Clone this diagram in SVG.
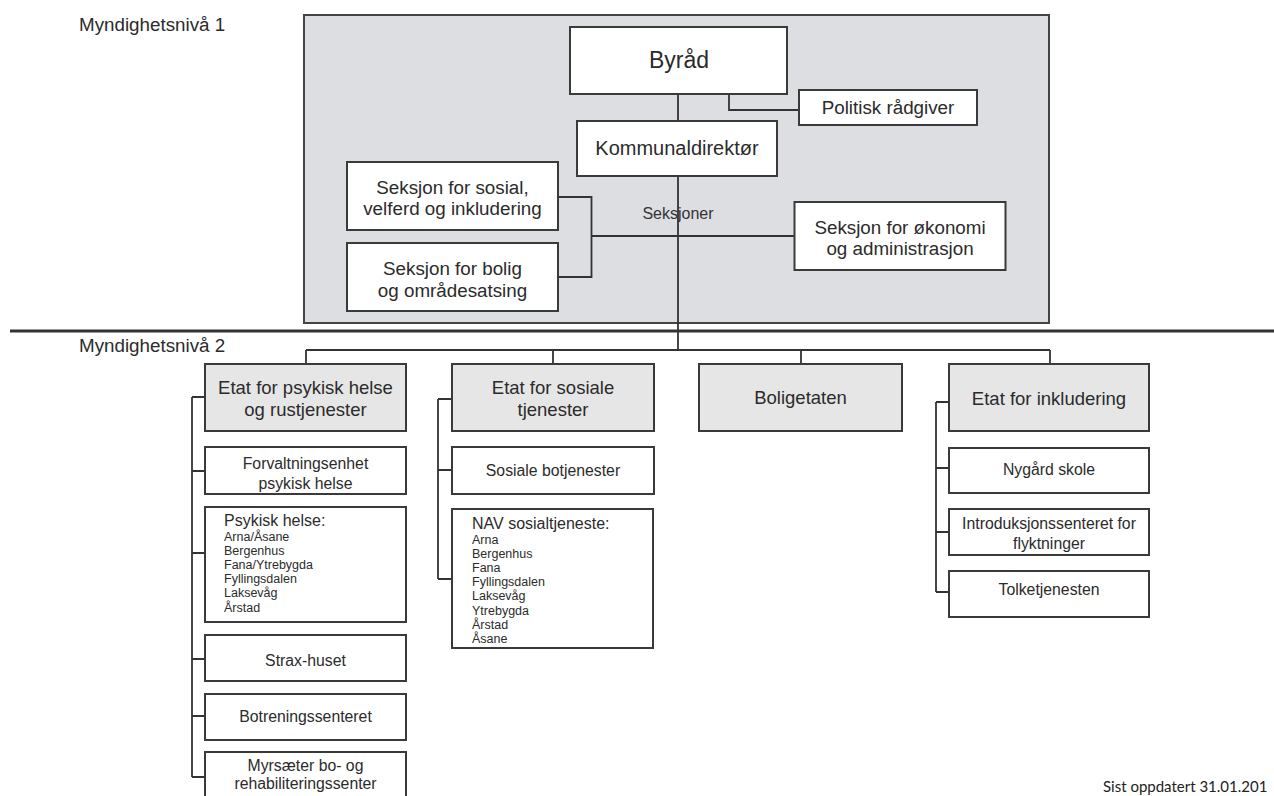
<svg xmlns="http://www.w3.org/2000/svg" width="1274" height="796" viewBox="0 0 1274 796">
<style>
text{font-family:"Liberation Sans",Arial,sans-serif;fill:#2b2b2b}
.c{text-anchor:middle}
.box{fill:#fff;stroke:#3a3a3a;stroke-width:2}
.etat{fill:#e6e6e6;stroke:#3a3a3a;stroke-width:2}
.l1{font-size:18.8px}
.l2{font-size:18.5px}
.sb{font-size:15.8px}
.hd{font-size:16px}
.it{font-size:12.5px}
.lv{font-size:18.8px}
.ln{fill:none;stroke:#333;stroke-width:1.8}
</style>
<rect width="1274" height="796" fill="#fff"/>
<g id="level1-area">
<rect x="304" y="15" width="745" height="308" fill="#dcdee1" stroke="#444" stroke-width="2"/>
</g>
<line x1="10" y1="331" x2="1274" y2="331" stroke="#333" stroke-width="3"/>
<text class="lv" x="79" y="30.5">Myndighetsnivå 1</text>
<text class="lv" x="79" y="351.5">Myndighetsnivå 2</text>
<g id="connectors">
<path class="ln" d="M678 94V121M678 176V350M729 94V110H799M558 197H591.5V277H558M591.5 236H794"/>
<path class="ln" d="M306 350H1050M306 350V364M553 350V364M801 350V364M1050 350V364"/>
<path class="ln" d="M192 397V777M192 397H205M192 471H205M192 553H205M192 659H205M192 716H205M192 777H205"/>
<path class="ln" d="M438 399V579M438 399H452M438 470H452M438 579H452"/>
<path class="ln" d="M936 402V592M936 402H949M936 468H949M936 532H949M936 592H949"/>
</g>
<text class="c" x="678" y="218.5" style="font-size:16px;fill:#333">Seksjoner</text>
<g id="byrad"><rect class="box" x="570" y="27" width="217" height="67"/><text class="c" x="679" y="68" style="font-size:23px">Byråd</text></g>
<g id="politisk"><rect class="box" x="799" y="90" width="178" height="35"/><text class="c l1" x="888" y="113.5">Politisk rådgiver</text></g>
<g id="kommunaldirektor"><rect class="box" x="577" y="121" width="200" height="55"/><text class="c" x="677" y="155" style="font-size:20px">Kommunaldirektør</text></g>
<g id="seksjon-sosial"><rect class="box" x="347" y="162" width="211" height="68"/><text class="c l1" x="452.5" y="193.5">Seksjon for sosial,</text><text class="c l1" x="452.5" y="214.5">velferd og inkludering</text></g>
<g id="seksjon-bolig"><rect class="box" x="347" y="243" width="211" height="68"/><text class="c l1" x="452.5" y="274.5">Seksjon for bolig</text><text class="c l1" x="452.5" y="296.5">og områdesatsing</text></g>
<g id="seksjon-okonomi"><rect class="box" x="794.5" y="202" width="211" height="68"/><text class="c l1" x="900" y="233.5">Seksjon for økonomi</text><text class="c l1" x="900" y="254.5">og administrasjon</text></g>

<g id="etat-psykisk"><rect class="etat" x="205" y="364" width="201" height="67"/><text class="c l2" x="305.5" y="394">Etat for psykisk helse</text><text class="c l2" x="305.5" y="416">og rustjenester</text></g>
<g id="etat-sosiale"><rect class="etat" x="452" y="364" width="202" height="67"/><text class="c l2" x="553" y="394">Etat for sosiale</text><text class="c l2" x="553" y="416">tjenester</text></g>
<g id="boligetaten"><rect class="etat" x="699" y="364" width="203" height="67"/><text class="c l2" x="800.5" y="404">Boligetaten</text></g>
<g id="etat-inkludering"><rect class="etat" x="949" y="364" width="200" height="67"/><text class="c l2" x="1049" y="405">Etat for inkludering</text></g>

<g id="forvaltning"><rect class="box" x="205" y="447" width="201" height="47"/><text class="c sb" x="305.5" y="468.5">Forvaltningsenhet</text><text class="c sb" x="305.5" y="488.5">psykisk helse</text></g>
<g id="psykisk-helse"><rect class="box" x="205" y="507" width="201" height="115"/><text class="hd" x="224" y="526">Psykisk helse:</text>
<text class="it" x="224" y="540.5">Arna/Åsane</text><text class="it" x="224" y="554.7">Bergenhus</text><text class="it" x="224" y="568.9">Fana/Ytrebygda</text><text class="it" x="224" y="583.1">Fyllingsdalen</text><text class="it" x="224" y="597.3">Laksevåg</text><text class="it" x="224" y="611.5">Årstad</text></g>
<g id="strax"><rect class="box" x="205" y="635" width="201" height="46"/><text class="c sb" x="305.5" y="665.5">Strax-huset</text></g>
<g id="botrening"><rect class="box" x="205" y="694" width="201" height="46"/><text class="c sb" x="305.5" y="721.5">Botreningssenteret</text></g>
<g id="myrsaeter"><rect class="box" x="205" y="752" width="201" height="60"/><text class="c sb" x="305.5" y="770.5">Myrsæter bo- og</text><text class="c sb" x="305.5" y="788.5">rehabiliteringssenter</text></g>

<g id="sosiale-botjenester"><rect class="box" x="452" y="447" width="202" height="47"/><text class="c sb" x="553" y="475.5">Sosiale botjenester</text></g>
<g id="nav"><rect class="box" x="452" y="509" width="201" height="139"/><text class="hd" x="472" y="529">NAV sosialtjeneste:</text>
<text class="it" x="472" y="543.5">Arna</text><text class="it" x="472" y="557.7">Bergenhus</text><text class="it" x="472" y="571.9">Fana</text><text class="it" x="472" y="586.1">Fyllingsdalen</text><text class="it" x="472" y="600.3">Laksevåg</text><text class="it" x="472" y="614.5">Ytrebygda</text><text class="it" x="472" y="628.7">Årstad</text><text class="it" x="472" y="642.9">Åsane</text></g>

<g id="nygard"><rect class="box" x="949" y="448" width="200" height="45"/><text class="c sb" x="1049" y="474.5">Nygård skole</text></g>
<g id="introduksjon"><rect class="box" x="949" y="509" width="200" height="46"/><text class="c sb" x="1049" y="528.5">Introduksjonssenteret for</text><text class="c sb" x="1049" y="548.5">flyktninger</text></g>
<g id="tolk"><rect class="box" x="949" y="571" width="200" height="46"/><text class="c sb" x="1049" y="594.5">Tolketjenesten</text></g>

<text x="1103" y="792" style="font-family:Lato,'Liberation Sans',sans-serif;font-size:15px;fill:#222">Sist oppdatert 31.01.201</text>
</svg>
